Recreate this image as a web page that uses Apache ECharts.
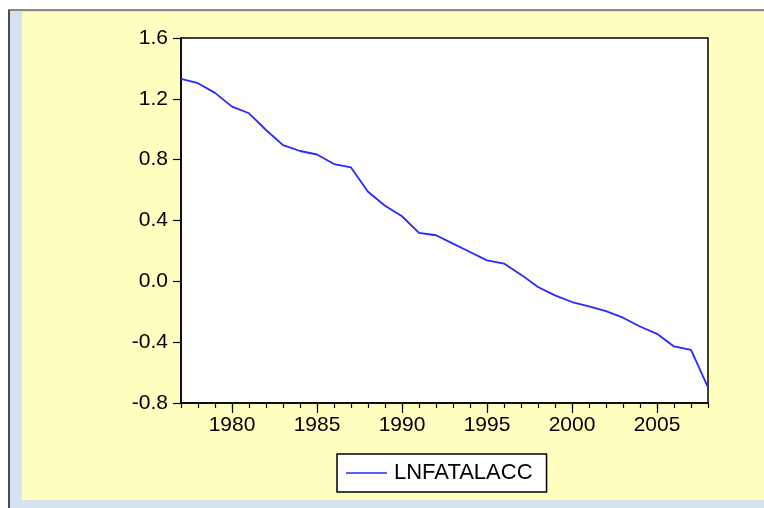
<!DOCTYPE html>
<html>
<head>
<meta charset="utf-8">
<script src="https://cdn.jsdelivr.net/npm/echarts@6/dist/echarts.min.js"></script>
<style>
html,body{margin:0;padding:0;background:#ffffff;}
#chart{width:764px;height:508px;}
</style>
</head>
<body>
<div id="chart"></div>
<script>
const years = [1977,1978,1979,1980,1981,1982,1983,1984,1985,1986,1987,1988,1989,1990,1991,1992,
               1993,1994,1995,1996,1997,1998,1999,2000,2001,2002,2003,2004,2005,2006,2007,2008];
const lnfatalacc = [1.332,1.303,1.239,1.149,1.105,0.995,0.896,0.857,0.834,0.771,0.749,0.589,0.497,0.428,0.319,0.303,
                    0.248,0.193,0.138,0.117,0.044,-0.037,-0.092,-0.136,-0.164,-0.196,-0.239,-0.297,-0.345,-0.428,-0.450,-0.697];
const seriesName = 'LNFATALACC';
const yMin = -0.8, yMax = 1.6, yStep = 0.4;

const FONT = '"Liberation Sans", Arial, sans-serif';
const yearCats = years.map(String);

const chart = echarts.init(document.getElementById('chart'), null, {renderer: 'canvas'});
chart.setOption({
  animation: false,
  backgroundColor: '#ffffff',
  graphic: [
    {type: 'rect', silent: true, z: -10, shape: {x: 0, y: 0, width: 764, height: 508}, style: {fill: '#ffffff'}},
    {type: 'rect', silent: true, z: -10, shape: {x: 8, y: 9, width: 756, height: 2}, style: {fill: '#8a8a8a'}},
    {type: 'rect', silent: true, z: -10, shape: {x: 8, y: 10, width: 2, height: 498}, style: {fill: '#505050'}},
    {type: 'rect', silent: true, z: -10, shape: {x: 10, y: 11, width: 754, height: 497}, style: {fill: '#d6e2f0'}},
    {type: 'rect', silent: true, z: -10, shape: {x: 22, y: 12, width: 742, height: 488}, style: {fill: '#ffffc0'}}
  ],
  grid: {
    left: 181, top: 38, right: 56, bottom: 105,
    show: true, backgroundColor: '#ffffff', borderColor: '#000000', borderWidth: 1.5
  },
  legend: {
    data: [{name: seriesName, icon: 'rect'}],
    left: 337, top: 454,
    backgroundColor: '#ffffff', borderColor: '#000000', borderWidth: 1.5,
    padding: [8, 14, 8, 9],
    itemWidth: 41, itemHeight: 1.6, itemGap: 7,
    textStyle: {fontFamily: FONT, fontSize: 22, color: '#000000', padding: [0, 0, 0, 2]}
  },
  xAxis: [
    {
      type: 'category', data: yearCats, boundaryGap: false, position: 'bottom',
      axisLine: {show: true, onZero: false, lineStyle: {color: '#000000', width: 1.5}},
      axisTick: {show: true, interval: 0, length: 5, lineStyle: {color: '#000000', width: 1.2}},
      axisLabel: {
        show: true, margin: 12, fontFamily: FONT, fontSize: 21, color: '#000000',
        interval: function (i, v) { return Number(v) % 5 === 0; }
      },
      splitLine: {show: false}
    },
    {
      type: 'category', data: yearCats, boundaryGap: false, position: 'bottom',
      axisLine: {show: false, onZero: false},
      axisTick: {show: true, length: 10, lineStyle: {color: '#000000', width: 1.2},
        interval: function (i, v) { return Number(v) % 5 === 0; }},
      axisLabel: {show: false},
      splitLine: {show: false}
    }
  ],
  yAxis: {
    type: 'value', min: yMin, max: yMax, interval: yStep,
    axisLine: {show: true, onZero: false, lineStyle: {color: '#000000', width: 1.5}},
    axisTick: {show: true, length: 8, lineStyle: {color: '#000000', width: 1.2}},
    axisLabel: {margin: 13, fontFamily: FONT, fontSize: 21, color: '#000000',
      formatter: function (v) { return v.toFixed(1); }},
    splitLine: {show: false}
  },
  series: [{
    name: seriesName, type: 'line', data: lnfatalacc, xAxisIndex: 0,
    symbol: 'none', smooth: false,
    lineStyle: {color: '#2828ff', width: 1.8},
    itemStyle: {color: '#2828ff'}
  }]
});
</script>
</body>
</html>
